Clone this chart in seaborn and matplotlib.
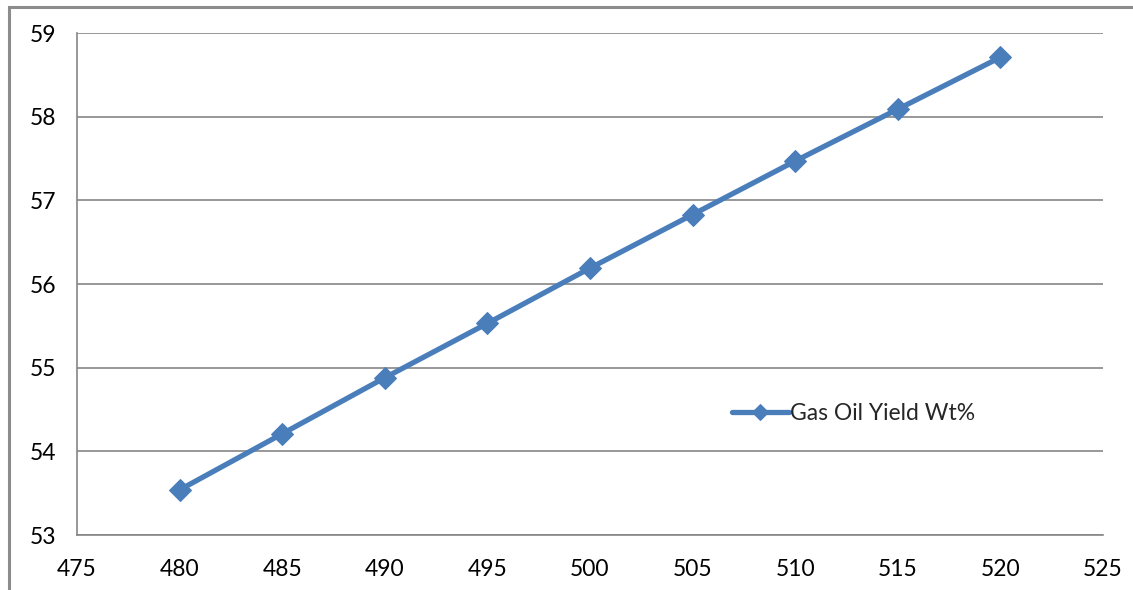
import matplotlib
matplotlib.use("Agg")
import matplotlib.pyplot as plt
import matplotlib.patches as mpatches
import seaborn as sns
import pandas as pd

# Reactor temperature vs. gas oil yield
temperature = [480, 485, 490, 495, 500, 505, 510, 515, 520]
gas_oil_yield = [53.54, 54.21, 54.88, 55.53, 56.19, 56.83, 57.47, 58.09, 58.71]
series_label = "Gas Oil Yield Wt%"
x_ticks = [475, 480, 485, 490, 495, 500, 505, 510, 515, 520, 525]
y_ticks = [53, 54, 55, 56, 57, 58, 59]

sns.set_theme(style="white")
plt.rcParams["font.family"] = ["Lato", "DejaVu Sans"]

df = pd.DataFrame({"temperature": temperature, "yield": gas_oil_yield})

fig = plt.figure(figsize=(11.33, 5.90), dpi=100)
ax = fig.add_axes([0.068, 0.0932, 0.9055, 0.8508])

grey = "#868686"
blue = "#4A7EBB"

sns.lineplot(data=df, x="temperature", y="yield", ax=ax, color=blue,
             linewidth=3.8, marker="D", markersize=11, markeredgecolor=blue,
             markerfacecolor=blue, label=series_label)

ax.set_xlim(475, 525)
ax.set_ylim(53, 59)
ax.set_xticks(x_ticks)
ax.set_yticks(y_ticks)
ax.set_xlabel("")
ax.set_ylabel("")

ax.yaxis.grid(True, color=grey, linewidth=1.2)
ax.xaxis.grid(False)
for side in ("top", "right"):
    ax.spines[side].set_visible(False)
for side in ("left", "bottom"):
    ax.spines[side].set_color(grey)
    ax.spines[side].set_linewidth(1.2)

ax.tick_params(axis="both", which="major", direction="out", length=7,
               width=1.2, color=grey, labelsize=16.5, labelcolor="black")
ax.tick_params(axis="x", pad=10)
ax.tick_params(axis="y", pad=8)

leg = ax.legend(loc="center left", bbox_to_anchor=(0.618, 0.243), frameon=False,
                fontsize=16.5, handlelength=2.5, handletextpad=0.05,
                markerscale=0.75)

# outer chart border
fig.patches.append(mpatches.Rectangle((9 / 1133, -0.1), 1.2, 1.1 - 7 / 590,
                                      transform=fig.transFigure, fill=False,
                                      edgecolor="#8C8C8C", linewidth=2.2,
                                      figure=fig))

fig.savefig("out.png", dpi=100)
